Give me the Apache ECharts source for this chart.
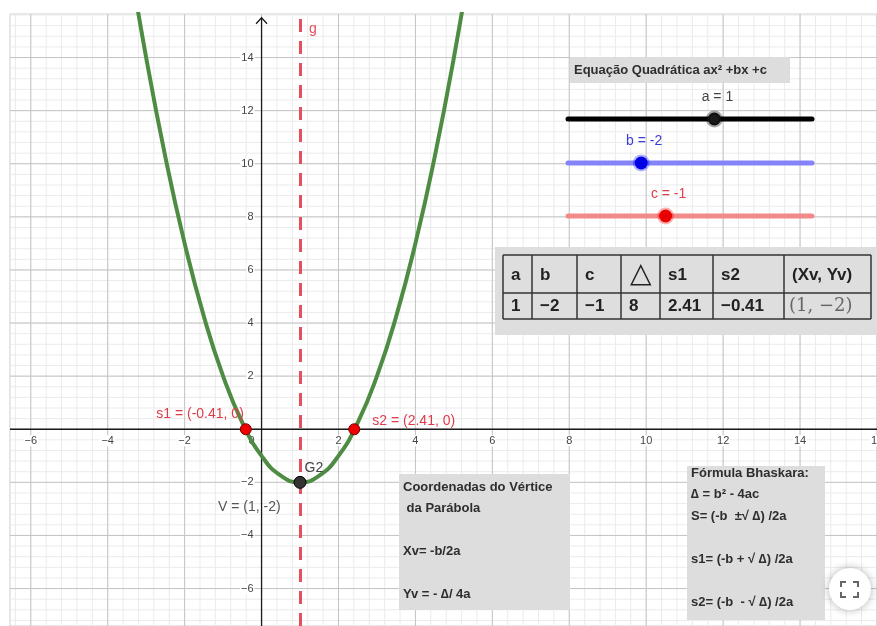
<!DOCTYPE html>
<html>
<head>
<meta charset="utf-8">
<style>
  html, body { margin: 0; padding: 0; background: #fff; }
  #chart { width: 877px; height: 626px; }
</style>
<script src="https://cdn.jsdelivr.net/npm/echarts@6/dist/echarts.min.js"></script>
</head>
<body>
<div id="chart"></div>
<script>
// f(x) = ax² + bx + c
const curveX = [-3.5, -3, -2.5, -2, -1.5, -1, -0.5, 0, 0.5, 1, 1.5, 2, 2.5, 3, 3.5, 4, 4.5, 5, 5.5];
const curveY = [18.25, 14, 10.25, 7, 4.25, 2, 0.25, -1, -1.75, -2, -1.75, -1, 0.25, 2, 4.25, 7, 10.25, 14, 18.25];

const roots = [-0.41, 2.41];
const rootLabels = ['s1 = (-0.41, 0)', 's2 = (2.41, 0)'];
const vertex = [1, -2];

const xTicks = [-6, -4, -2, 0, 2, 4, 6, 8, 10, 12, 14, 16];
const yTicks = [-6, -4, -2, 2, 4, 6, 8, 10, 12, 14];

const sliderNames = ['a', 'b', 'c'];
const sliderValues = [1, -2, -1];

const tableHeader = ['a', 'b', 'c', '\u25B3', 's1', 's2', '(Xv, Yv)'];
const tableRow = ['1', '\u22122', '\u22121', '8', '2.41', '\u22120.41', '(1, \u22122)'];

const vertexText = ['Coordenadas do Vértice', ' da Parábola', '', 'Xv= -b/2a', '', 'Yv = - \u2206/ 4a'];
const bhaskaraText = ['Fórmula Bhaskara:', '\u2206 = b² - 4ac', 'S= (-b  ±\u221A \u2206) /2a', '', 's1= (-b + \u221A \u2206) /2a', '', 's2= (-b  - \u221A \u2206) /2a'];

// visible window of the graphics view
const X_MIN = -6.54, X_MAX = 16.0, Y_MIN = -7.41, Y_MAX = 15.64;
const SLIDER_MIN = -5, SLIDER_MAX = 5;

const FONT = '"Liberation Sans", Arial, sans-serif';
const sliderColors = [
  { track: '#000000', fill: '#1a1a1a', halo: 'rgba(0,0,0,0.35)', text: '#444' },
  { track: '#8484f8', fill: '#0000e0', halo: 'rgba(0,0,255,0.3)', text: '#3c3cdc' },
  { track: '#f28a8a', fill: '#e60000', halo: 'rgba(255,0,0,0.3)', text: '#e0404c' }
];
const sliderTrackY = [119, 163, 216];

function minus(v) { return v < 0 ? '\u2212' + (-v) : String(v); }

function gridValues(min, max, step) {
  const out = [];
  for (let k = Math.ceil(min / step); k * step <= max + 1e-9; k++) out.push(+(k * step).toFixed(2));
  return out;
}
const minorLines = gridValues(X_MIN, X_MAX, 0.4).map(v => [v, 0])
  .concat(gridValues(Y_MIN, Y_MAX, 0.4).map(v => [v, 1]));
const majorLines = gridValues(X_MIN, X_MAX, 2).map(v => [v, 0])
  .concat(gridValues(Y_MIN, Y_MAX, 2).map(v => [v, 1]));

function gridRender(color) {
  return function (params, api) {
    const v = api.value(0), dir = api.value(1);
    const p1 = dir === 0 ? api.coord([v, Y_MIN]) : api.coord([X_MIN, v]);
    const p2 = dir === 0 ? api.coord([v, Y_MAX]) : api.coord([X_MAX, v]);
    return {
      type: 'line',
      shape: { x1: p1[0], y1: p1[1], x2: p2[0], y2: p2[1] },
      style: { stroke: color, lineWidth: 1 }
    };
  };
}

function textAt(text, dx, dy, align, color) {
  return function (params, api) {
    const p = api.coord([api.value(0), api.value(1)]);
    return {
      type: 'text',
      style: { text: text, x: p[0] + dx, y: p[1] + dy, align: align, verticalAlign: 'middle', font: '14px ' + FONT, fill: color }
    };
  };
}

const chart = echarts.init(document.getElementById('chart'));

const grids = [{ left: 10, top: 14, right: -1, bottom: -1, show: true, borderColor: '#cfcfcf', borderWidth: 1, backgroundColor: '#fff' }];
const xAxes = [{ gridIndex: 0, type: 'value', min: X_MIN, max: X_MAX, show: false }];
const yAxes = [{ gridIndex: 0, type: 'value', min: Y_MIN, max: Y_MAX, show: false }];
sliderNames.forEach((n, i) => {
  grids.push({ left: 568, width: 244, top: sliderTrackY[i] - 1, height: 2 });
  xAxes.push({ gridIndex: i + 1, type: 'value', min: SLIDER_MIN, max: SLIDER_MAX, show: false });
  yAxes.push({ gridIndex: i + 1, type: 'value', min: -1, max: 1, show: false });
});

const series = [
  { type: 'custom', z: 1, silent: true, data: minorLines, renderItem: gridRender('#ebebeb') },
  { type: 'custom', z: 1, silent: true, data: majorLines, renderItem: gridRender('#c4c4c4') },
  {
    // tick labels on the x axis
    type: 'custom', z: 2, silent: true,
    data: xTicks.map(v => [v, 0]),
    renderItem: (params, api) => {
      const v = api.value(0);
      const p = api.coord([v, 0]);
      return {
        type: 'text',
        style: {
          text: minus(v), x: v === 0 ? p[0] - 6 : p[0], y: p[1] + 6,
          align: v === 0 ? 'right' : 'center', verticalAlign: 'top',
          font: '11px ' + FONT, fill: '#444', backgroundColor: '#fff', padding: [0, 1]
        }
      };
    }
  },
  {
    // tick labels on the y axis
    type: 'custom', z: 2, silent: true,
    data: yTicks.map(v => [0, v]),
    renderItem: (params, api) => {
      const v = api.value(1);
      const p = api.coord([0, v]);
      return {
        type: 'text',
        style: {
          text: minus(v), x: p[0] - 7, y: p[1],
          align: 'right', verticalAlign: 'middle',
          font: '11px ' + FONT, fill: '#444', backgroundColor: '#fff', padding: [0, 1]
        }
      };
    }
  },
  {
    // axes with arrow on y
    type: 'custom', z: 3, silent: true,
    data: [[0, 0]],
    renderItem: (params, api) => {
      const l = api.coord([X_MIN, 0]), r = api.coord([X_MAX, 0]);
      const b = api.coord([0, Y_MIN]), t = api.coord([0, 15.5]);
      const st = { stroke: '#1a1a1a', lineWidth: 1.3, fill: null };
      return {
        type: 'group',
        children: [
          { type: 'line', shape: { x1: l[0], y1: l[1], x2: r[0], y2: r[1] }, style: st },
          { type: 'line', shape: { x1: b[0], y1: b[1], x2: t[0], y2: t[1] }, style: st },
          { type: 'polyline', shape: { points: [[t[0] - 5.5, t[1] + 6], [t[0], t[1]], [t[0] + 5.5, t[1] + 6]] }, style: st }
        ]
      };
    }
  },
  {
    name: 'f',
    type: 'line', z: 5,
    data: curveX.map((x, i) => [x, curveY[i]]),
    smooth: true, showSymbol: false, clip: true, silent: true,
    lineStyle: { color: '#4f8c43', width: 4 },
    markLine: {
      silent: true, symbol: ['none', 'none'], z: 4,
      label: { show: false },
      lineStyle: { color: '#e4505e', width: 3, type: [13, 9] },
      data: [{ xAxis: vertex[0] }]
    }
  },
  // label of the line g
  { type: 'custom', z: 6, silent: true, data: [[vertex[0], Y_MAX]], renderItem: textAt('g', 9, 15, 'left', '#e4505e') },
  // label of the vertex point V
  { type: 'custom', z: 6, silent: true, data: [vertex], renderItem: textAt('V = (' + vertex[0] + ', ' + vertex[1] + ')', -82, 25, 'left', '#555') },
  {
    type: 'scatter', z: 7, silent: true,
    data: roots.map((r, i) => ({
      value: [r, 0],
      label: i === 0
        ? { show: true, formatter: rootLabels[i], position: [4, -9.5], align: 'right', verticalAlign: 'middle' }
        : { show: true, formatter: rootLabels[i], position: [24, -2.5], align: 'left', verticalAlign: 'middle' }
    })),
    symbolSize: 11,
    itemStyle: { color: '#ee0000', borderColor: '#7a0000', borderWidth: 1, opacity: 1 },
    label: { color: '#e03a4a', fontSize: 14, fontFamily: FONT }
  },
  {
    type: 'scatter', z: 7, silent: true,
    data: [vertex],
    symbolSize: 12,
    itemStyle: { color: '#333333', borderColor: '#000', borderWidth: 1, opacity: 1 },
    label: { show: true, formatter: 'G2', position: [11, -8], align: 'left', verticalAlign: 'middle', color: '#444', fontSize: 14, fontFamily: FONT }
  }
];

sliderNames.forEach((n, i) => {
  const c = sliderColors[i];
  series.push({
    type: 'line', xAxisIndex: i + 1, yAxisIndex: i + 1, z: 8, silent: true,
    data: [[SLIDER_MIN, 0], [SLIDER_MAX, 0]], showSymbol: false,
    lineStyle: { color: c.track, width: 5, cap: 'round' }
  });
  series.push({
    type: 'scatter', xAxisIndex: i + 1, yAxisIndex: i + 1, z: 9, silent: true,
    data: [[sliderValues[i], 0]], symbolSize: 13,
    itemStyle: { color: c.fill, borderColor: c.halo, borderWidth: 4, opacity: 1 },
    label: {
      show: true, formatter: n + ' = ' + sliderValues[i], position: 'top', distance: 6, offset: [3, 0],
      color: c.text, fontSize: 14, fontFamily: FONT
    }
  });
});

// table of coefficients
const colEdges = [503, 532, 577, 621, 660, 713, 784, 871];
const rowEdges = [255, 293, 319];
const tableEls = [{ type: 'rect', shape: { x: 495, y: 247, width: 382, height: 88 }, style: { fill: '#dedede' } }];
colEdges.forEach(x => tableEls.push({ type: 'line', shape: { x1: x, y1: rowEdges[0], x2: x, y2: rowEdges[2] }, style: { stroke: '#333', lineWidth: 1.5 } }));
rowEdges.forEach(y => tableEls.push({ type: 'line', shape: { x1: colEdges[0], y1: y, x2: colEdges[colEdges.length - 1], y2: y }, style: { stroke: '#333', lineWidth: 1.5 } }));
tableHeader.forEach((h, i) => {
  const tri = h === '\u25B3';
  tableEls.push({
    type: 'text',
    style: {
      text: h, x: colEdges[i] + (tri ? 9 : 8), y: 275, verticalAlign: 'middle',
      font: tri ? '28px "DejaVu Sans"' : 'bold 17px ' + FONT, fill: '#222'
    }
  });
});
tableRow.forEach((v, i) => {
  const last = i === tableRow.length - 1;
  tableEls.push({
    type: 'text',
    style: {
      text: v, x: colEdges[i] + (last ? 5 : 8), y: 306, verticalAlign: 'middle',
      font: last ? '18px "DejaVu Serif"' : 'bold 17px ' + FONT, fill: last ? '#666' : '#222'
    }
  });
});

function textBox(x, y, w, h, lines, firstY) {
  return [
    { type: 'rect', shape: { x: x, y: y, width: w, height: h }, style: { fill: '#dddddd' } },
    { type: 'text', style: { text: lines.join('\n'), x: x + 4, y: firstY - 10.75, lineHeight: 21.5, verticalAlign: 'top', font: 'bold 13px ' + FONT, fill: '#2e2e2e' } }
  ];
}

const graphics = [].concat(
  [{ type: 'rect', shape: { x: 570, y: 57, width: 220, height: 26 }, style: { fill: '#dddddd' } },
   { type: 'text', style: { text: 'Equação Quadrática ax² +bx +c', x: 574, y: 70, verticalAlign: 'middle', font: 'bold 13px ' + FONT, fill: '#2e2e2e' } }],
  tableEls,
  textBox(399, 474, 171, 136, vertexText, 487),
  textBox(687, 466, 138, 154, bhaskaraText, 473),
  [{ type: 'circle', shape: { cx: 850, cy: 589, r: 21 }, style: { fill: '#fff', shadowBlur: 8, shadowColor: 'rgba(0,0,0,0.3)' } },
   { type: 'polyline', shape: { points: [[841, 587], [841, 582], [846, 582]] }, style: { stroke: '#666', lineWidth: 2, fill: null } },
   { type: 'polyline', shape: { points: [[853, 582], [858, 582], [858, 587]] }, style: { stroke: '#666', lineWidth: 2, fill: null } },
   { type: 'polyline', shape: { points: [[841, 592], [841, 597], [846, 597]] }, style: { stroke: '#666', lineWidth: 2, fill: null } },
   { type: 'polyline', shape: { points: [[853, 597], [858, 597], [858, 592]] }, style: { stroke: '#666', lineWidth: 2, fill: null } }]
);

chart.setOption({
  animation: false,
  backgroundColor: '#fff',
  grid: grids,
  xAxis: xAxes,
  yAxis: yAxes,
  series: series,
  graphic: graphics.map(g => Object.assign({ z: 20, silent: true }, g))
});
</script>
</body>
</html>
